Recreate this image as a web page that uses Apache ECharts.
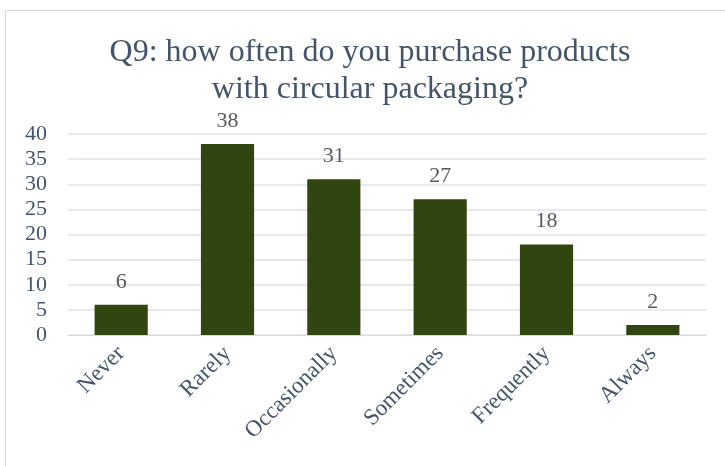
<!DOCTYPE html>
<html>
<head>
<meta charset="utf-8">
<script src="https://cdn.jsdelivr.net/npm/echarts@6/dist/echarts.min.js"></script>
<style>
  html, body { margin: 0; padding: 0; background: #fff; }
  #frame { position: absolute; left: 5px; top: 10px; width: 730px; height: 470px; border: 1px solid #d9d9d9; box-sizing: border-box; }
  #chart { position: absolute; left: 0; top: 0; width: 725px; height: 466px; }
</style>
</head>
<body>
<div id="frame"></div>
<div id="chart"></div>
<script>
// Survey answers and counts
const categories = ['Never', 'Rarely', 'Occasionally', 'Sometimes', 'Frequently', 'Always'];
const counts = [6, 38, 31, 27, 18, 2];
const titleText = 'Q9: how often do you purchase products\nwith circular packaging?';

const serif = '"Liberation Serif", "Times New Roman", serif';
const textColor = '#44546A';

const chart = echarts.init(document.getElementById('chart'), null, { renderer: 'canvas' });
chart.setOption({
  animation: false,
  title: {
    text: titleText,
    left: 365,
    textAlign: 'center',
    top: 29,
    textStyle: { fontFamily: serif, fontSize: 32, fontWeight: 'normal', color: textColor, lineHeight: 37 }
  },
  grid: { left: 68, right: 19, top: 134, bottom: 131 },
  xAxis: {
    type: 'category',
    data: categories,
    axisLine: { show: true, lineStyle: { color: '#d9d9d9', width: 1 } },
    axisTick: { show: false },
    axisLabel: { rotate: 45, fontFamily: serif, fontSize: 23, color: textColor, margin: 15, interval: 0 }
  },
  yAxis: {
    type: 'value',
    min: 0, max: 40, interval: 5,
    axisLine: { show: false },
    axisTick: { show: false },
    splitLine: { lineStyle: { color: '#dee2ea', width: 1.5 } },
    axisLabel: { fontFamily: serif, fontSize: 22, color: textColor, margin: 21 }
  },
  series: [{
    type: 'bar',
    data: counts,
    barWidth: '50%',
    itemStyle: { color: '#30450f' },
    label: { show: true, position: 'top', distance: 12, fontFamily: serif, fontSize: 22, color: '#595959' }
  }]
});
</script>
</body>
</html>
